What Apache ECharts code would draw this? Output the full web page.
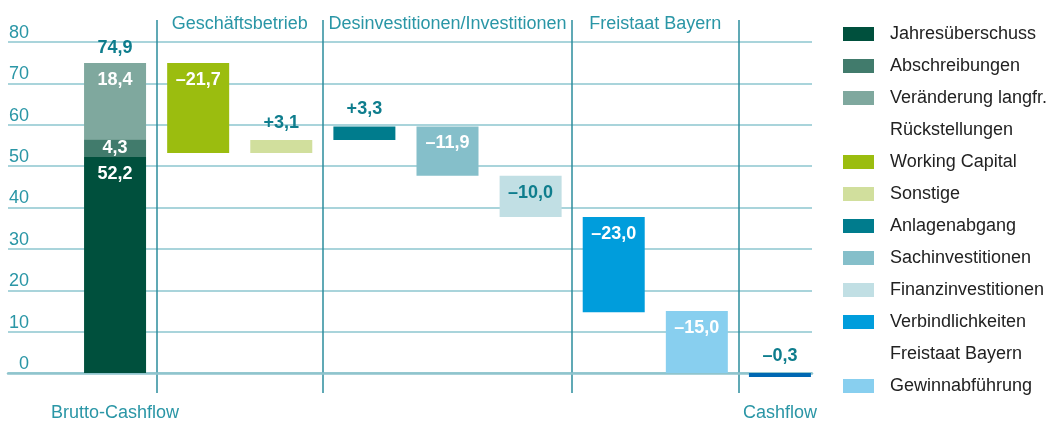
<!DOCTYPE html>
<html>
<head>
<meta charset="utf-8">
<script src="https://cdn.jsdelivr.net/npm/echarts@6/dist/echarts.min.js"></script>
<style>
  html, body { margin: 0; padding: 0; background: #fff; }
  #chart { width: 1059px; height: 424px; }
</style>
</head>
<body>
<div id="chart"></div>
<script>
// Daten (Mio. EUR)
const categories = ['Brutto-Cashflow', 'Working Capital', 'Sonstige', 'Anlagenabgang', 'Sachinvestitionen',
  'Finanzinvestitionen', 'Verbindlichkeiten', 'Gewinnabführung', 'Cashflow']
const bruttoNames = ['Jahresüberschuss', 'Abschreibungen', 'Veränderung langfr.']
const bruttoValues = [52.2, 4.3, 18.4]
const changeNames = ['Working Capital', 'Sonstige', 'Anlagenabgang', 'Sachinvestitionen',
  'Finanzinvestitionen', 'Verbindlichkeiten', 'Gewinnabführung']
const changeValues = [-21.7, 3.1, 3.3, -11.9, -10.0, -23.0, -15.0]
const cashflowValue = -0.3
const groupNames = ['Geschäftsbetrieb', 'Desinvestitionen/Investitionen', 'Freistaat Bayern']
const groupColumns = [[1, 2], [3, 5], [6, 7]]
const separatorsBefore = [1, 3, 6, 8]
const legendNames = ['Jahresüberschuss', 'Abschreibungen', 'Veränderung langfr.', 'Rückstellungen',
  'Working Capital', 'Sonstige', 'Anlagenabgang', 'Sachinvestitionen', 'Finanzinvestitionen',
  'Verbindlichkeiten', 'Freistaat Bayern', 'Gewinnabführung']
const spacerNames = ['Rückstellungen', 'Freistaat Bayern']
const yMin = 0, yMax = 80, yStep = 10

const colors = {
  'Jahresüberschuss': '#00503d',
  'Abschreibungen': '#417b6c',
  'Veränderung langfr.': '#7fa89e',
  'Working Capital': '#9bbd0f',
  'Sonstige': '#d1df9d',
  'Anlagenabgang': '#007c8d',
  'Sachinvestitionen': '#85bfca',
  'Finanzinvestitionen': '#c1dfe4',
  'Verbindlichkeiten': '#009ddc',
  'Gewinnabführung': '#88cfef',
  'Cashflow': '#0068b3'
}
const darkLabel = ['Finanzinvestitionen']
const teal = '#0e7d8d'
const axisTeal = '#2a96a6'
const font = 'Liberation Sans'

const fmt = (v, sign) => (v < 0 ? '–' : (sign ? '+' : '')) + Math.abs(v).toFixed(1).replace('.', ',')
const onlyAt = (idx, v) => categories.map((c, i) => (i === idx ? v : '-'))

const bruttoTotal = +bruttoValues.reduce((a, b) => a + b, 0).toFixed(1)
const offsets = categories.map(() => '-')
let run = bruttoTotal
changeValues.forEach((v, j) => {
  offsets[j + 1] = +Math.min(run, run + v).toFixed(1)
  run += v
})

const barBase = {
  type: 'bar', xAxisIndex: 1, yAxisIndex: 1, stack: 'w',
  barWidth: 62, animation: false
}
const labelBase = { show: true, fontFamily: font, fontSize: 18, fontWeight: 'bold' }

const series = [
  Object.assign({}, barBase, {
    name: 'offset', data: offsets, silent: true,
    itemStyle: { color: 'transparent' }
  })
]
bruttoNames.forEach((name, i) => {
  series.push(Object.assign({}, barBase, {
    name, data: onlyAt(0, bruttoValues[i]),
    itemStyle: { color: colors[name] },
    label: Object.assign({}, labelBase, {
      position: i === 1 ? 'inside' : 'insideTop', distance: 8, color: '#fff',
      formatter: () => fmt(bruttoValues[i], false)
    })
  }))
})
series.push(Object.assign({}, barBase, {
  name: 'Summe', data: onlyAt(0, 0), itemStyle: { color: 'transparent' },
  label: Object.assign({}, labelBase, {
    position: 'top', distance: 6, color: teal, formatter: () => fmt(bruttoTotal, false)
  })
}))
changeNames.forEach((name, j) => {
  const v = changeValues[j]
  series.push(Object.assign({}, barBase, {
    name, data: onlyAt(j + 1, Math.abs(v)),
    itemStyle: { color: colors[name] },
    label: Object.assign({}, labelBase, {
      position: v < 0 ? 'insideTop' : 'top', distance: 8,
      color: v < 0 && darkLabel.indexOf(name) < 0 ? '#fff' : teal,
      formatter: () => fmt(v, true)
    })
  }))
})
series.push(Object.assign({}, barBase, {
  name: 'Cashflow', data: onlyAt(8, cashflowValue), clip: false, barMinHeight: 4,
  itemStyle: { color: colors['Cashflow'] },
  label: Object.assign({}, labelBase, {
    position: 'top', distance: 8, color: teal, formatter: () => fmt(cashflowValue, false)
  })
}))
spacerNames.forEach((name) => {
  series.push(Object.assign({}, barBase, { name, data: [] }))
})

const chart = echarts.init(document.getElementById('chart'))
const bandLeft = 73.5, bandWidth = 748
// the separator axis ends at the last separator, whose line is the axis end
const sepCats = categories.slice(0, Math.max.apply(null, separatorsBefore))

chart.setOption({
  animation: false,
  textStyle: { fontFamily: font },
  grid: [
    { left: 8, right: 247, top: 42, bottom: 51 },
    { left: bandLeft, width: bandWidth, top: 42, bottom: 51 },
    { left: bandLeft, width: bandWidth * sepCats.length / categories.length, top: 20, bottom: 31 }
  ],
  xAxis: [
    {
      gridIndex: 0, type: 'value', min: 0, max: 1,
      axisLine: { show: true, lineStyle: { color: '#8fc4cd', width: 2.5 } },
      axisTick: { show: false }, axisLabel: { show: false }, splitLine: { show: false }
    },
    {
      gridIndex: 1, type: 'category', data: categories,
      axisLine: { show: false }, axisTick: { show: false }, splitLine: { show: false },
      axisLabel: {
        interval: 0, margin: 31, color: axisTeal, fontSize: 18, fontFamily: font,
        formatter: (v, i) => (i === 0 || i === categories.length - 1 ? v : '')
      }
    },
    {
      gridIndex: 2, type: 'category', data: sepCats,
      axisLine: { show: false }, axisTick: { show: false }, axisLabel: { show: false },
      splitLine: {
        show: true, interval: (i) => separatorsBefore.indexOf(i) >= 0,
        lineStyle: { color: '#2b8d9c', width: 1.5 }
      }
    }
  ],
  yAxis: [
    {
      gridIndex: 0, type: 'value', min: yMin, max: yMax, interval: yStep,
      axisLine: { show: false }, axisTick: { show: false },
      axisLabel: {
        inside: true, margin: 21, align: 'right', verticalAlign: 'bottom',
        color: axisTeal, fontSize: 18, fontFamily: font
      },
      splitLine: { lineStyle: { color: '#a9d4db', width: 2 } }
    },
    { gridIndex: 1, type: 'value', min: yMin, max: yMax, interval: yStep, show: false },
    { gridIndex: 2, type: 'value', show: false }
  ],
  legend: {
    data: legendNames.map((name) => (spacerNames.indexOf(name) >= 0 ? { name, icon: 'none' } : { name, icon: 'rect' })),
    orient: 'vertical', left: 843, top: 25, padding: 0,
    itemWidth: 31, itemHeight: 14, itemGap: 14, selectedMode: false,
    textStyle: { color: '#222', fontSize: 18, fontFamily: font, lineHeight: 18, padding: [0, 0, 0, 11] }
  },
  series
})

// Überschriften der Spaltengruppen
chart.setOption({
  graphic: groupNames.map((text, g) => {
    const a = chart.convertToPixel({ xAxisIndex: 1 }, categories[groupColumns[g][0]])
    const b = chart.convertToPixel({ xAxisIndex: 1 }, categories[groupColumns[g][1]])
    return {
      type: 'text', x: (a + b) / 2, y: 24,
      style: {
        text, fill: axisTeal, font: '18px "' + font + '"',
        textAlign: 'center', textVerticalAlign: 'middle'
      }
    }
  })
})
</script>
</body>
</html>
